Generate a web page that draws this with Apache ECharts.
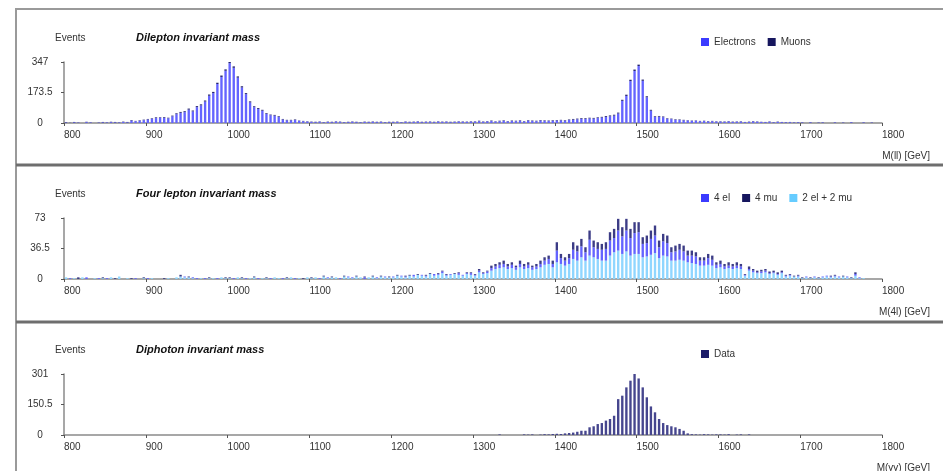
<!DOCTYPE html>
<html>
<head>
<meta charset="utf-8">
<script src="https://cdn.jsdelivr.net/npm/echarts@6/dist/echarts.min.js"></script>
<style>
  html, body { margin: 0; padding: 0; background: #fff; }
  #main { width: 943px; height: 471px; }
</style>
</head>
<body>
<div id="main"></div>
<script type="text/javascript">
  // 5 GeV bins from 800 to 1800, one row per 100 GeV
  var dileptonElectrons = [
    3,0,4,2,0,5,3,0,2,4,3,5,4,3,6,4,14,10,12,16,
    20,24,28,30,29,27,38,50,58,62,76,66,90,100,122,155,170,222,262,297,
    340,314,258,202,164,117,90,80,70,52,44,42,34,20,15,15,17,12,10,8,
    6,5,7,4,6,5,8,6,4,5,7,5,4,6,5,7,5,6,4,5,
    5,6,4,7,5,6,8,5,6,7,5,8,6,7,5,6,8,7,6,8,
    8,10,7,9,11,8,10,12,9,11,10,12,9,13,11,10,14,12,11,13,
    14,15,13,17,19,21,24,23,26,25,28,31,34,38,42,54,126,154,238,296,
    324,240,146,70,34,36,33,24,22,18,17,15,14,12,13,10,11,9,10,8,
    8,7,9,6,7,8,5,6,9,7,6,5,7,4,6,5,4,5,3,4,
    3,0,4,0,2,3,0,0,3,0,2,0,4,0,0,3,0,2,0,0
  ];
  var dileptonMuons = [
    2,1,2,1,0,2,1,0,1,2,1,2,2,1,2,2,3,2,3,3,
    3,3,4,3,4,3,4,5,5,5,6,5,6,6,6,7,7,7,8,8,
    7,8,7,7,6,6,5,5,5,4,4,4,4,3,3,3,3,2,2,2,
    2,2,2,1,2,2,2,2,1,2,2,2,1,2,2,2,2,2,1,2,
    2,2,1,2,2,2,2,2,2,2,2,2,2,2,2,2,2,2,2,2,
    2,3,2,2,3,2,3,3,2,3,3,3,2,3,3,3,3,3,3,3,
    3,3,3,3,4,4,4,4,4,4,4,4,5,5,5,5,6,7,8,8,
    8,7,6,5,4,4,4,3,3,3,3,3,2,2,2,2,2,2,2,2,
    2,2,2,2,2,2,1,2,2,2,1,1,2,1,2,1,1,1,1,1,
    1,0,1,0,1,1,0,0,1,0,1,0,1,0,0,1,0,1,0,0
  ];

  var fourLepton2e2mu = [
    2,0,1,0,2,0,0,1,0,1,0,2,0,3,0,1,0,0,0,1,
    0,1,0,0,0,1,0,2,3,2,2,1,0,1,0,1,1,0,2,1,
    1,0,2,1,0,1,2,0,1,1,0,2,1,0,1,2,0,1,0,2,
    1,2,0,3,1,2,2,0,3,2,1,3,2,0,2,3,1,3,2,2,
    2,4,3,2,4,3,5,4,3,6,4,5,7,4,5,6,5,4,6,5,
    4,8,6,7,10,12,13,14,12,13,11,14,12,13,11,12,14,17,18,14,
    20,18,16,18,24,22,26,22,28,26,24,22,22,28,32,34,30,33,28,30,
    30,26,27,29,31,25,28,27,22,22,23,22,20,19,18,16,16,17,16,13,
    14,12,13,12,13,12,4,10,8,7,7,8,6,7,5,7,3,4,3,3,
    1,2,1,2,1,2,3,2,3,2,3,2,1,4,1,1,0,0,0,0
  ];
  var fourLepton4el = [
    0,1,0,0,0,2,0,0,1,0,1,0,0,0,0,0,0,1,0,0,
    1,0,0,0,0,0,0,0,0,1,0,1,1,0,1,0,0,1,0,0,
    0,1,0,0,1,0,0,1,0,0,1,0,0,1,0,0,1,0,0,0,
    0,0,1,0,1,0,0,1,0,1,1,0,0,2,0,0,1,0,1,0,
    1,0,1,1,0,2,0,1,1,0,2,1,2,1,1,0,2,1,1,2,
    1,2,1,2,3,3,4,4,3,4,3,4,3,4,3,3,4,5,6,4,
    14,7,6,7,11,11,13,10,19,12,12,13,14,18,17,24,21,25,21,25,
    26,16,16,19,21,13,17,16,10,11,12,11,8,9,9,6,6,8,7,4,
    4,3,3,3,3,3,1,2,2,1,2,2,1,1,1,1,1,1,0,1,
    0,1,0,1,0,1,1,1,1,1,0,1,0,2,1,0,0,0,0,0
  ];
  var fourLepton4mu = [
    0,0,0,2,0,0,0,0,0,1,0,0,1,0,0,0,1,0,0,1,
    0,0,0,0,1,0,0,0,2,0,1,0,0,0,0,1,0,0,0,1,
    1,0,0,1,0,0,1,0,0,1,0,0,0,0,1,0,0,0,1,0,
    1,0,0,1,0,1,0,0,1,0,0,1,0,1,0,1,0,1,0,1,
    0,1,0,1,1,0,1,0,1,1,0,1,1,1,0,1,1,0,1,1,
    1,2,1,1,3,3,3,4,3,3,2,4,3,3,2,3,4,4,4,4,
    10,5,4,5,9,7,9,6,11,8,8,7,8,10,11,14,11,14,11,13,
    12,8,9,10,12,8,9,9,6,7,7,7,6,6,5,4,4,5,5,3,
    4,3,4,3,4,3,1,3,2,2,2,2,2,2,2,2,1,1,1,1,
    1,0,1,0,1,0,0,1,1,0,1,0,1,2,0,0,0,0,0,0
  ];

  var diphotonData = [
    0,0,0,0,0,0,0,0,0,0,0,0,0,0,0,0,0,0,0,0,
    0,0,0,0,0,0,0,0,0,0,0,0,0,0,0,0,0,0,0,0,
    0,0,0,0,0,0,0,0,0,0,0,0,0,0,0,0,0,0,0,0,
    0,0,0,0,0,0,0,0,0,0,0,0,0,0,0,0,0,0,0,0,
    0,0,0,0,0,0,0,0,0,0,0,0,0,0,0,0,0,0,0,0,
    0,0,0,0,0,0,3,0,0,0,0,0,3,2,3,0,2,4,3,5,
    6,5,8,10,12,16,21,21,38,43,54,59,71,79,95,177,194,235,268,301,
    279,235,186,141,112,79,59,49,43,38,30,21,8,4,3,2,4,3,2,3,
    3,2,4,0,2,3,0,3,0,0,0,0,0,0,0,0,0,0,0,0,
    0,0,0,0,0,0,0,0,0,0,0,0,0,0,0,0,0,0,0,0
  ];

  var panelTitles = ['Dilepton invariant mass', 'Four lepton invariant mass', 'Diphoton invariant mass'];
  var massLabels = ['M(ll) [GeV]', 'M(4l) [GeV]', 'M(γγ) [GeV]'];
  var yMax = [347, 73, 301];

  // bin lower edges, used as the category axis behind the bars
  var binEdges = [];
  for (var i = 0; i < 200; i++) {
    binEdges.push(800 + 5 * i);
  }

  var FONT = 'Liberation Sans, Arial, sans-serif';
  var COL_EL = '#3b3bff', COL_MU = '#16165e', COL_MIX = '#66ccff', COL_DATA = '#1c1c68';
  var PANEL_STEP = 156;

  var grids = [], xAxes = [], yAxes = [], titles = [];
  for (var p = 0; p < 3; p++) {
    grids.push({ left: 64, top: 62 + PANEL_STEP * p, width: 818, height: 61 });
    // visible mass axis
    xAxes.push({
      type: 'value', gridIndex: p, min: 800, max: 1800, interval: 100,
      axisLine: { lineStyle: { color: '#8a8a8a', width: 1.5 } },
      axisTick: { length: 3, lineStyle: { color: '#555' } },
      axisLabel: { fontFamily: FONT, fontSize: 10, color: '#333', align: 'left', margin: 7,
        formatter: function(v) { return String(v); } },
      splitLine: { show: false }
    });
    // hidden bin axis for the stacked bars
    xAxes.push({
      type: 'category', gridIndex: p, data: binEdges, boundaryGap: true,
      show: false
    });
    yAxes.push({
      type: 'value', gridIndex: p, min: 0, max: yMax[p], interval: yMax[p] / 2,
      axisLine: { show: true, lineStyle: { color: '#8a8a8a', width: 1.5 } },
      axisTick: { show: true, length: 3, lineStyle: { color: '#555' } },
      axisLabel: { fontFamily: FONT, fontSize: 10, color: '#333', align: 'center', margin: 24 },
      splitLine: { show: false }
    });
    titles.push({ text: 'Events', left: 50, top: 28 + PANEL_STEP * p,
      textStyle: { fontFamily: FONT, fontSize: 10, fontWeight: 'normal', color: '#333' } });
    titles.push({ text: panelTitles[p], left: 131, top: 27 + PANEL_STEP * p,
      textStyle: { fontFamily: FONT, fontSize: 11, fontStyle: 'italic', fontWeight: 'bold', color: '#111' } });
    titles.push({ text: massLabels[p], right: 8, top: 146 + PANEL_STEP * p,
      textStyle: { fontFamily: FONT, fontSize: 10, fontWeight: 'normal', color: '#333' } });
  }

  function barSeries(name, values, panel, color, stack) {
    return {
      name: name, type: 'bar', xAxisIndex: panel * 2 + 1, yAxisIndex: panel,
      stack: stack, barWidth: '58%', data: values,
      itemStyle: { color: color }
    };
  }

  function legendFor(panel, items) {
    return {
      left: 696, top: 32 + PANEL_STEP * panel, icon: 'rect',
      itemWidth: 8, itemHeight: 8, itemGap: 12,
      textStyle: { fontFamily: FONT, fontSize: 10, color: '#333' },
      data: items.map(function(it) { return { name: it[0], itemStyle: { color: it[1] } }; })
    };
  }

  var option = {
    animation: false,
    title: titles,
    grid: grids,
    xAxis: xAxes,
    yAxis: yAxes,
    legend: [
      legendFor(0, [['Electrons', COL_EL], ['Muons', COL_MU]]),
      legendFor(1, [['4 el', COL_EL], ['4 mu', COL_MU], ['2 el + 2 mu', COL_MIX]]),
      legendFor(2, [['Data', COL_DATA]])
    ],
    series: [
      barSeries('Electrons', dileptonElectrons, 0, '#6464ff', 'll'),
      barSeries('Muons', dileptonMuons, 0, '#22226e', 'll'),
      barSeries('2 el + 2 mu', fourLepton2e2mu, 1, '#8fd6ff', '4l'),
      barSeries('4 el', fourLepton4el, 1, '#6464ff', '4l'),
      barSeries('4 mu', fourLepton4mu, 1, '#3c3c86', '4l'),
      barSeries('Data', diphotonData, 2, '#46468e', 'yy')
    ],
    graphic: [
      { type: 'rect', shape: { x: 16, y: 9, width: 945, height: 480 },
        style: { fill: 'none', stroke: '#9a9a9a', lineWidth: 2 } },
      { type: 'line', shape: { x1: 16, y1: 165, x2: 943, y2: 165 },
        style: { stroke: '#6e6e6e', lineWidth: 3 } },
      { type: 'line', shape: { x1: 16, y1: 322, x2: 943, y2: 322 },
        style: { stroke: '#6e6e6e', lineWidth: 3 } }
    ]
  };

  var chart = echarts.init(document.getElementById('main'));
  chart.setOption(option);
</script>
</body>
</html>
